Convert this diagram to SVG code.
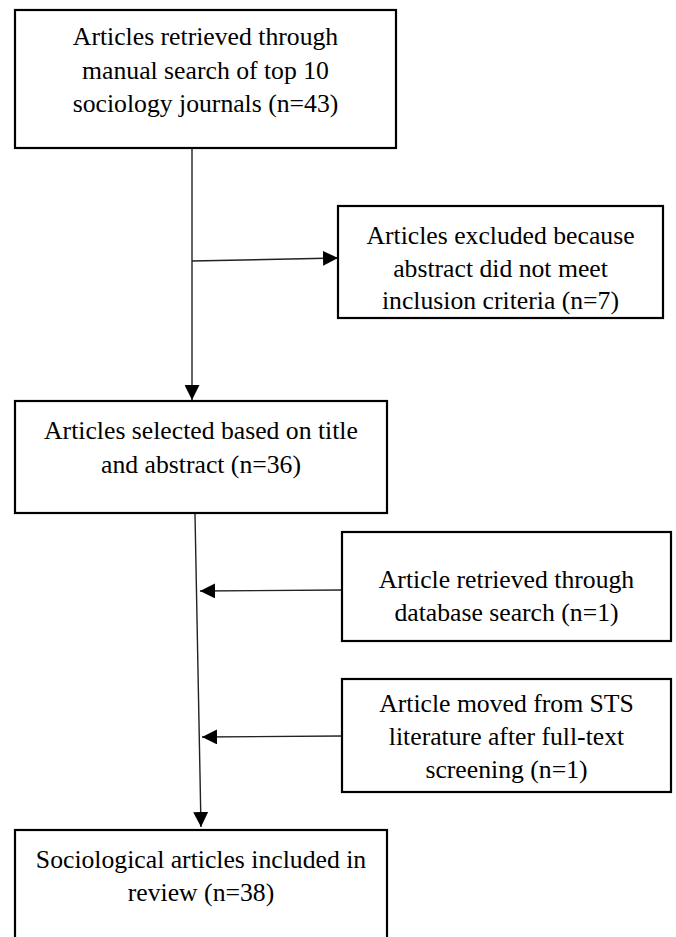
<svg xmlns="http://www.w3.org/2000/svg" width="676" height="937" viewBox="0 0 676 937">
<style>
.box{fill:#fff;stroke:#000;stroke-width:2.2}
.t{font-family:"Liberation Serif","Times New Roman",serif;font-size:25.7px;fill:#000;text-anchor:middle}
.c{stroke:#222;stroke-width:1.4;fill:none}
</style>
<defs>
<marker id="ah" markerUnits="userSpaceOnUse" markerWidth="16" markerHeight="15" refX="15" refY="7.5" orient="auto">
<path d="M0,0 L15,7.5 L0,15 z" fill="#000"/>
</marker>
</defs>
<rect width="676" height="937" fill="#fff"/>
<g id="connectors">
<line class="c" x1="192" y1="149" x2="192" y2="400" marker-end="url(#ah)"/>
<line class="c" x1="192" y1="261" x2="338" y2="258" marker-end="url(#ah)"/>
<line class="c" x1="195" y1="514" x2="201" y2="827" marker-end="url(#ah)"/>
<line class="c" x1="342" y1="590" x2="200" y2="591" marker-end="url(#ah)"/>
<line class="c" x1="342" y1="736" x2="202" y2="737" marker-end="url(#ah)"/>
</g>
<g id="n1">
<rect class="box" x="15" y="10" width="381" height="138"/>
<text class="t" x="205.5" y="45">Articles retrieved through</text>
<text class="t" x="205.5" y="79">manual search of top 10</text>
<text class="t" x="205.5" y="112">sociology journals (n=43)</text>
</g>
<g id="n2">
<rect class="box" x="338" y="206" width="325" height="112"/>
<text class="t" x="500.5" y="244">Articles excluded because</text>
<text class="t" x="500.5" y="277">abstract did not meet</text>
<text class="t" x="500.5" y="309">inclusion criteria (n=7)</text>
</g>
<g id="n3">
<rect class="box" x="15" y="401" width="372" height="112"/>
<text class="t" x="201" y="439">Articles selected based on title</text>
<text class="t" x="201" y="473">and abstract (n=36)</text>
</g>
<g id="n4">
<rect class="box" x="342" y="532" width="329" height="109"/>
<text class="t" x="506.5" y="588">Article retrieved through</text>
<text class="t" x="506.5" y="621">database search (n=1)</text>
</g>
<g id="n5">
<rect class="box" x="342" y="679" width="329" height="113"/>
<text class="t" x="506.5" y="712">Article moved from STS</text>
<text class="t" x="506.5" y="745">literature after full-text</text>
<text class="t" x="506.5" y="778">screening (n=1)</text>
</g>
<g id="n6">
<rect class="box" x="15" y="830" width="372" height="140"/>
<text class="t" x="201" y="868">Sociological articles included in</text>
<text class="t" x="201" y="901">review (n=38)</text>
</g>
</svg>
